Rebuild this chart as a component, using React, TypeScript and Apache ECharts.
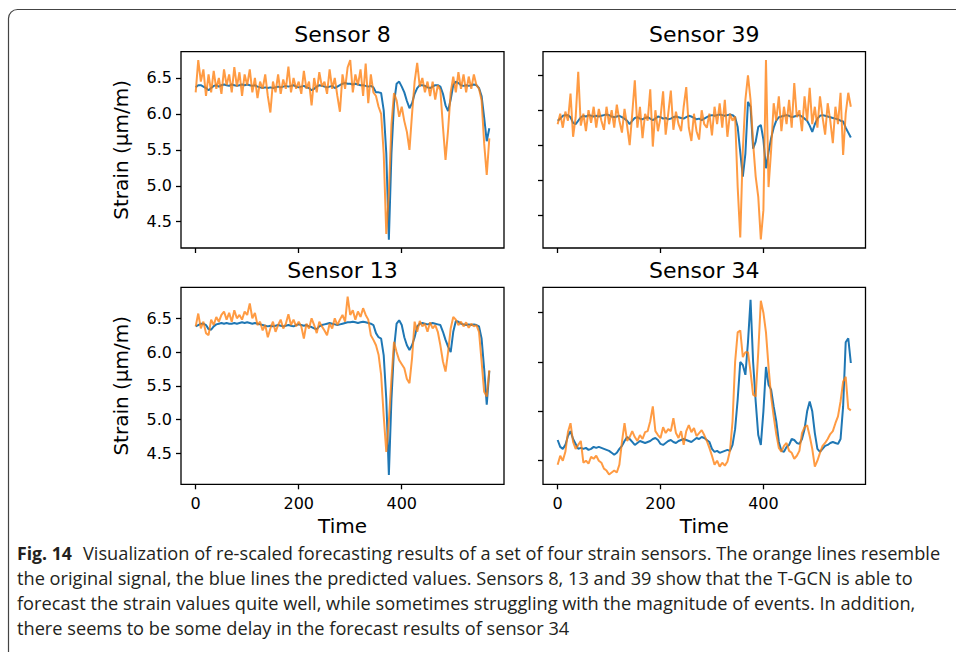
import React, { useEffect, useRef } from "react";
import * as echarts from "echarts";

// ---------- data ----------
const STEP = 5;
const TIME: number[] = Array.from({ length: 115 }, (_, i) => i * STEP);
const X_TICKS = [0, 200, 400];
const Y_TICKS = [4.5, 5.0, 5.5, 6.0, 6.5];
const Y_TICKS_34 = [5.0, 5.5, 6.0, 6.5];

const TITLES = ["Sensor 8", "Sensor 39", "Sensor 13", "Sensor 34"];
const Y_LABEL = "Strain (µm/m)";
const X_LABEL = "Time";

const S8_PRED = [
  6.37, 6.40, 6.40, 6.38, 6.36, 6.33, 6.36, 6.39, 6.40, 6.38,
  6.40, 6.41, 6.40, 6.39, 6.41, 6.40, 6.39, 6.40, 6.41, 6.40,
  6.41, 6.40, 6.39, 6.40, 6.38, 6.37, 6.36, 6.37, 6.36, 6.37,
  6.36, 6.37, 6.38, 6.37, 6.38, 6.39, 6.38, 6.39, 6.40, 6.38,
  6.37, 6.38, 6.39, 6.37, 6.36, 6.33, 6.35, 6.38, 6.40, 6.39,
  6.38, 6.37, 6.38, 6.39, 6.36, 6.38, 6.40, 6.42, 6.43, 6.42,
  6.42, 6.41, 6.42, 6.41, 6.40, 6.40, 6.39, 6.38, 6.39, 6.37,
  6.30, 6.30, 6.29, 6.05, 5.45, 4.25, 5.45, 6.15, 6.42, 6.45,
  6.38, 6.30, 6.18, 6.08, 6.15, 6.28, 6.36, 6.40, 6.40, 6.39,
  6.37, 6.36, 6.38, 6.40, 6.40, 6.38, 6.28, 6.12, 6.04, 6.20,
  6.40, 6.45, 6.43, 6.40, 6.39, 6.40, 6.39, 6.40, 6.41, 6.40,
  6.36, 6.25, 5.95, 5.62, 5.80,
];
const S8_TRUE = [
  6.30, 6.75, 6.45, 6.62, 6.25, 6.55, 6.30, 6.60, 6.35, 6.50,
  6.28, 6.62, 6.40, 6.55, 6.30, 6.65, 6.38, 6.58, 6.25, 6.55,
  6.40, 6.62, 6.30, 6.50, 6.22, 6.45, 6.35, 6.55, 6.25, 6.02,
  6.45, 6.30, 6.55, 6.28, 6.48, 6.35, 6.66, 6.30, 6.50, 6.35,
  6.45, 6.28, 6.60, 6.35, 6.45, 6.12, 6.50, 6.30, 6.58, 6.38,
  6.45, 6.28, 6.62, 6.35, 6.50, 6.25, 6.03, 6.55, 6.35, 6.65,
  6.75, 6.30, 6.55, 6.40, 6.62, 6.25, 6.70, 6.15, 6.55, 6.30,
  6.25, 6.10, 6.00, 5.45, 4.33, 4.90, 5.85, 6.29, 6.19, 5.96,
  6.10, 5.90, 5.75, 5.50, 6.00, 6.45, 6.71, 6.38, 6.50, 6.30,
  6.45, 6.25, 6.45, 6.20, 6.40, 6.33, 5.82, 5.36, 5.78, 6.30,
  6.52, 6.30, 6.58, 6.35, 6.55, 6.30, 6.52, 6.35, 6.55, 6.40,
  6.35, 6.19, 5.59, 5.15, 5.66,
];
const S39_PRED = [
  5.85, 5.88, 5.92, 5.93, 5.93, 5.90, 5.82, 5.80, 5.85, 5.90,
  5.92, 5.91, 5.93, 5.92, 5.91, 5.92, 5.91, 5.92, 5.93, 5.94,
  5.93, 5.91, 5.90, 5.91, 5.92, 5.90, 5.88, 5.85, 5.80, 5.85,
  5.89, 5.90, 5.88, 5.87, 5.89, 5.90, 5.88, 5.86, 5.88, 5.91,
  5.90, 5.88, 5.89, 5.87, 5.88, 5.90, 5.91, 5.90, 5.89, 5.88,
  5.90, 5.92, 5.91, 5.89, 5.87, 5.88, 5.86, 5.88, 5.90, 5.92,
  5.93, 5.92, 5.93, 5.94, 5.93, 5.92, 5.93, 5.94, 5.93, 5.90,
  5.76, 5.40, 5.05, 5.38, 6.12, 6.05, 5.45, 5.55, 5.76, 5.79,
  5.58, 5.17, 5.40, 5.60, 5.75, 5.85, 5.90, 5.91, 5.92, 5.93,
  5.92, 5.90, 5.91, 5.92, 5.93, 5.91, 5.88, 5.85, 5.78, 5.69,
  5.80, 5.88, 5.92, 5.93, 5.92, 5.91, 5.90, 5.89, 5.88, 5.87,
  5.85, 5.84, 5.75, 5.68, 5.61,
];
const S39_TRUE = [
  5.80, 5.95, 5.75, 5.98, 5.85, 6.24, 5.62, 5.90, 6.55, 5.78,
  5.95, 5.70, 6.00, 5.82, 6.05, 5.75, 6.02, 5.85, 5.72, 6.05,
  5.80, 6.00, 5.75, 6.08, 5.85, 5.68, 6.02, 5.78, 5.50, 5.95,
  6.43, 5.75, 6.05, 5.60, 5.95, 5.85, 6.30, 5.48, 6.00, 5.70,
  5.90, 6.27, 5.65, 5.95, 6.28, 5.72, 5.98, 5.80, 5.70, 6.05,
  6.33, 5.75, 5.56, 5.95, 5.70, 5.58, 6.00, 5.80, 5.75, 5.95,
  5.64, 6.05, 5.80, 6.10, 5.75, 6.15, 5.62, 5.95, 5.85, 5.91,
  4.90, 4.18, 5.43, 6.15, 6.50, 6.15, 5.53, 5.05, 4.76, 4.15,
  4.57, 6.72, 4.90, 5.43, 6.10, 5.85, 6.20, 5.70, 6.05, 5.80,
  6.15, 5.75, 6.39, 5.90, 6.00, 5.70, 6.20, 5.85, 6.32, 5.80,
  6.05, 5.75, 6.20, 5.90, 5.65, 6.10, 5.85, 5.53, 6.05, 5.80,
  6.25, 5.36, 5.95, 6.25, 6.05,
];
const S13_PRED = [
  6.38, 6.40, 6.42, 6.42, 6.40, 6.34, 6.33, 6.38, 6.41, 6.42,
  6.43, 6.42, 6.43, 6.42, 6.42, 6.43, 6.42, 6.43, 6.44, 6.43,
  6.44, 6.43, 6.42, 6.43, 6.42, 6.41, 6.40, 6.39, 6.38, 6.39,
  6.38, 6.39, 6.40, 6.39, 6.38, 6.39, 6.40, 6.39, 6.38, 6.40,
  6.41, 6.40, 6.39, 6.40, 6.38, 6.37, 6.35, 6.34, 6.38, 6.40,
  6.41, 6.42, 6.43, 6.42, 6.41, 6.40, 6.41, 6.42, 6.43, 6.44,
  6.44, 6.45, 6.44, 6.43, 6.44, 6.45, 6.44, 6.43, 6.42, 6.40,
  6.28, 6.22, 6.20, 5.95, 5.30, 4.18, 5.30, 6.05, 6.42, 6.47,
  6.40, 6.22, 6.10, 6.03, 6.10, 6.22, 6.38, 6.42, 6.43, 6.42,
  6.41, 6.42, 6.43, 6.42, 6.41, 6.40, 6.30, 6.18, 6.08, 6.00,
  6.30, 6.46, 6.45, 6.42, 6.41, 6.40, 6.41, 6.40, 6.41, 6.40,
  6.38, 6.20, 5.75, 5.22, 5.72,
];
const S13_TRUE = [
  6.38, 6.57, 6.35, 6.45, 6.28, 6.25, 6.48, 6.40, 6.52, 6.45,
  6.55, 6.60, 6.48, 6.58, 6.45, 6.62, 6.50, 6.55, 6.48, 6.60,
  6.55, 6.72, 6.50, 6.58, 6.40, 6.45, 6.32, 6.40, 6.22, 6.35,
  6.45, 6.30, 6.40, 6.48, 6.35, 6.42, 6.56, 6.40, 6.48, 6.38,
  6.45, 6.38, 6.20, 6.42, 6.35, 6.50, 6.40, 6.28, 6.45, 6.38,
  6.32, 6.25, 6.42, 6.35, 6.50, 6.40, 6.48, 6.55, 6.45, 6.82,
  6.55, 6.62, 6.48, 6.60, 6.52, 6.65, 6.55, 6.48, 6.25, 6.18,
  6.10, 5.96, 5.66, 5.05, 4.52, 4.98, 5.60, 6.15, 6.00, 5.88,
  5.82, 5.76, 5.60, 5.54, 5.91, 6.45, 6.30, 6.46, 6.38, 6.42,
  6.30, 6.44, 6.35, 6.40, 6.30, 6.10, 5.86, 5.71, 6.00, 6.35,
  6.52, 6.48, 6.40, 6.45, 6.38, 6.44, 6.36, 6.42, 6.38, 6.40,
  6.30, 5.86, 5.41, 5.34, 5.73,
];
const S34_PRED = [
  5.21, 5.14, 5.12, 5.16, 5.25, 5.30, 5.22, 5.17, 5.12, 5.13,
  5.12, 5.13, 5.11, 5.12, 5.14, 5.13, 5.14, 5.13, 5.12, 5.11,
  5.10, 5.08, 5.06, 5.08, 5.12, 5.15, 5.20, 5.24, 5.22, 5.19,
  5.16, 5.18, 5.20, 5.19, 5.18, 5.19, 5.20, 5.22, 5.23, 5.21,
  5.17, 5.16, 5.18, 5.20, 5.21, 5.19, 5.18, 5.20, 5.21, 5.22,
  5.21, 5.20, 5.19, 5.21, 5.23, 5.22, 5.24, 5.23, 5.21, 5.19,
  5.12, 5.09, 5.10, 5.08, 5.09, 5.10, 5.11, 5.10, 5.16, 5.32,
  5.62, 6.00, 5.97, 5.87, 6.20, 6.63, 6.00, 5.60, 5.26, 5.16,
  5.50, 5.95, 5.77, 5.72, 5.55, 5.40, 5.19, 5.10, 5.09, 5.14,
  5.16, 5.22, 5.21, 5.18, 5.17, 5.22, 5.32, 5.50, 5.60, 5.50,
  5.28, 5.12, 5.09, 5.12, 5.15, 5.16, 5.18, 5.19, 5.18, 5.17,
  5.22, 5.55, 6.20, 6.24, 5.99,
];
const S34_TRUE = [
  4.96, 5.05, 5.00, 5.09, 5.29, 5.38, 5.19, 5.12, 5.16, 5.20,
  4.98, 5.00, 4.97, 5.04, 5.02, 5.05, 5.00, 4.98, 4.92, 4.90,
  4.86, 4.88, 4.90, 4.88, 4.96, 5.19, 5.38, 5.20, 5.24, 5.30,
  5.24, 5.20, 5.26, 5.22, 5.29, 5.30, 5.40, 5.55, 5.30, 5.26,
  5.23, 5.34, 5.28, 5.32, 5.30, 5.43, 5.28, 5.23, 5.30, 5.16,
  5.30, 5.36, 5.29, 5.33, 5.25, 5.28, 5.31, 5.26, 5.20, 5.13,
  5.05, 4.96, 5.00, 4.94, 4.98, 4.95, 4.99, 5.10, 5.40, 6.00,
  6.30, 6.32, 6.05, 6.10, 6.10, 5.90, 5.67, 5.65, 6.10, 6.62,
  6.50, 6.30, 5.95, 5.65, 5.45, 5.27, 5.13, 5.09, 5.15, 5.18,
  5.10, 5.08, 5.02, 5.05, 5.10, 5.28, 5.34, 5.36, 5.25, 5.12,
  4.94, 5.00, 5.08, 5.15, 5.18, 5.22, 5.27, 5.30, 5.38, 5.45,
  5.60, 5.80, 5.85, 5.53, 5.51,
];

const CAPTION_BOLD = "Fig. 14";
const CAPTION_LINES = [
  "Visualization of re-scaled forecasting results of a set of four strain sensors. The orange lines resemble",
  "the original signal, the blue lines the predicted values. Sensors 8, 13 and 39 show that the T-GCN is able to",
  "forecast the strain values quite well, while sometimes struggling with the magnitude of events. In addition,",
  "there seems to be some delay in the forecast results of sensor 34",
];

// ---------- layout ----------
const FONT = '"DejaVu Sans", sans-serif';
const CAP_FONT_FAMILY = '"Open Sans", "Noto Sans", sans-serif';
const CAP_SIZE = 18;
const BLUE = "#1f77b4";
const ORANGE = "#ff7f0e";

const PANELS = [
  { title: TITLES[0], pred: S8_PRED, truth: S8_TRUE, left: 181, top: 51.7, w: 323, h: 196.3, ymin: 4.134, ymax: 6.866, yticks: Y_TICKS, ylab: true, xlab: false },
  { title: TITLES[1], pred: S39_PRED, truth: S39_TRUE, left: 543, top: 51.7, w: 322.5, h: 196.3, ymin: 4.028, ymax: 6.838, yticks: Y_TICKS, ylab: false, xlab: false },
  { title: TITLES[2], pred: S13_PRED, truth: S13_TRUE, left: 181, top: 287.3, w: 323, h: 197, ymin: 4.041, ymax: 6.959, yticks: Y_TICKS, ylab: true, xlab: true },
  { title: TITLES[3], pred: S34_PRED, truth: S34_TRUE, left: 543, top: 287.3, w: 322.5, h: 197, ymin: 4.761, ymax: 6.757, yticks: Y_TICKS_34, ylab: false, xlab: true },
];

function measure(text: string, font: string): number {
  const c = document.createElement("canvas").getContext("2d");
  if (!c) return text.length * 9;
  c.font = font;
  return c.measureText(text).width;
}

export default function App() {
  const ref = useRef<HTMLDivElement>(null);

  useEffect(() => {
    if (!ref.current) return;
    const chart = echarts.init(ref.current, undefined, { renderer: "svg" });

    const tickStyle = { color: "#000", width: 1.3 };
    const labelStyle = { fontSize: 16, fontFamily: FONT, color: "#000" };

    const grid = PANELS.map((p) => ({
      left: p.left,
      top: p.top,
      width: p.w,
      height: p.h,
      show: true,
      borderColor: "#000",
      borderWidth: 1.3,
      backgroundColor: "transparent",
      containLabel: false,
    }));

    const xAxis = PANELS.map((p, i) => ({
      type: "value",
      gridIndex: i,
      position: "bottom",
      min: -28.5,
      max: 598.5,
      axisLine: { show: false, onZero: false },
      splitLine: { show: false },
      axisTick: { show: true, inside: false, length: 5, customValues: X_TICKS, lineStyle: tickStyle },
      axisLabel: { show: p.xlab, customValues: X_TICKS, margin: 11, ...labelStyle },
    }));

    const yAxis = PANELS.map((p, i) => ({
      type: "value",
      gridIndex: i,
      position: "left",
      min: p.ymin,
      max: p.ymax,
      axisLine: { show: false, onZero: false },
      splitLine: { show: false },
      axisTick: { show: true, inside: false, length: 5, customValues: p.yticks, lineStyle: tickStyle },
      axisLabel: {
        show: p.ylab,
        customValues: p.yticks,
        margin: 9,
        formatter: (v: number) => v.toFixed(1),
        ...labelStyle,
      },
    }));

    const series: any[] = [];
    PANELS.forEach((p, i) => {
      series.push({
        type: "line",
        xAxisIndex: i,
        yAxisIndex: i,
        data: TIME.map((t, k) => [t, p.pred[k]]),
        showSymbol: false,
        symbol: "none",
        silent: true,
        z: 2,
        lineStyle: { color: BLUE, width: 2 },
        itemStyle: { color: BLUE },
      });
      series.push({
        type: "line",
        xAxisIndex: i,
        yAxisIndex: i,
        data: TIME.map((t, k) => [t, p.truth[k]]),
        showSymbol: false,
        symbol: "none",
        silent: true,
        z: 3,
        lineStyle: { color: ORANGE, width: 2, opacity: 0.78 },
        itemStyle: { color: ORANGE },
      });
    });

    const graphic: any[] = [];
    // frame
    graphic.push({
      type: "rect",
      silent: true,
      z: -10,
      shape: { x: 8.5, y: 9.5, width: 1000, height: 800, r: 9 },
      style: { fill: "none", stroke: "#444", lineWidth: 1.2 },
    });
    // titles and axis names
    PANELS.forEach((p) => {
      graphic.push({
        type: "text",
        x: p.left + p.w / 2,
        y: p.top - 17,
        silent: true,
        style: { text: p.title, font: `22px ${FONT}`, fill: "#000", align: "center", verticalAlign: "middle" },
      });
      if (p.ylab) {
        graphic.push({
          type: "text",
          x: 121,
          y: p.top + p.h / 2,
          rotation: Math.PI / 2,
          silent: true,
          style: { text: Y_LABEL, font: `20px ${FONT}`, fill: "#000", align: "center", verticalAlign: "middle" },
        });
      }
      if (p.xlab) {
        graphic.push({
          type: "text",
          x: p.left + p.w / 2,
          y: 526,
          silent: true,
          style: { text: X_LABEL, font: `20px ${FONT}`, fill: "#000", align: "center", verticalAlign: "middle" },
        });
      }
    });

    // caption
    const boldFont = `bold ${CAP_SIZE}px ${CAP_FONT_FAMILY}`;
    const regFont = `${CAP_SIZE}px ${CAP_FONT_FAMILY}`;
    const sb = 55 / measure(CAPTION_BOLD, boldFont);
    const sr = (941 - 83) / measure(CAPTION_LINES[0], regFont);
    const capColor = "#231f20";
    const lineY = [553, 578, 603, 628];
    graphic.push({
      type: "text",
      x: 17,
      y: lineY[0],
      scaleX: sb,
      silent: true,
      style: { text: CAPTION_BOLD, font: boldFont, fill: capColor, align: "left", verticalAlign: "middle" },
    });
    CAPTION_LINES.forEach((ln, k) => {
      graphic.push({
        type: "text",
        x: k === 0 ? 83 : 17,
        y: lineY[k],
        scaleX: sr,
        silent: true,
        style: { text: ln, font: regFont, fill: capColor, align: "left", verticalAlign: "middle" },
      });
    });

    chart.setOption({
      animation: false,
      backgroundColor: "#fff",
      grid,
      xAxis,
      yAxis,
      series,
      graphic,
    } as any);

    return () => chart.dispose();
  }, []);

  return (
    <div
      ref={ref}
      style={{ position: "absolute", left: 0, top: 0, width: 956, height: 652, background: "#fff" }}
    />
  );
}
